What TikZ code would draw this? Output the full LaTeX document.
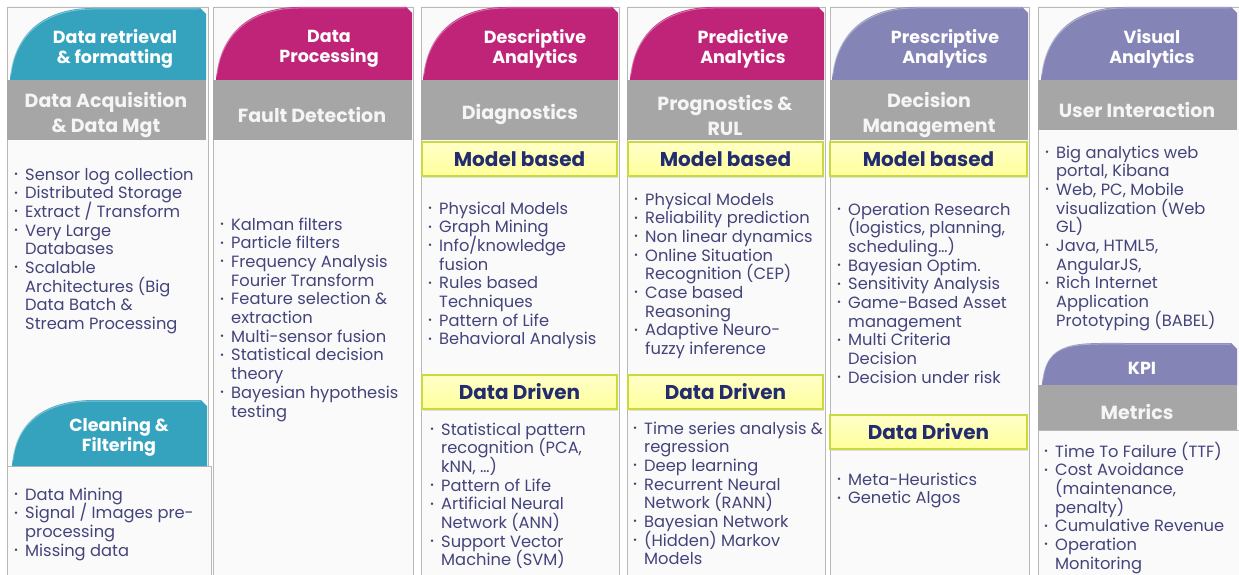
\documentclass[tikz,border=0pt]{standalone}
\usepackage{fontspec}
\setmainfont{Poppins}
\usepackage{graphicx}
\usetikzlibrary{shadows}
\definecolor{hdTeal}{HTML}{36A3BE}
\definecolor{hdMag}{HTML}{BF2479}
\definecolor{hdLav}{HTML}{8484B6}
\definecolor{bandGray}{HTML}{A6A6A6}
\definecolor{txtBody}{HTML}{44447C}
\definecolor{txtNavy}{HTML}{232C6E}
\definecolor{ylwFill}{HTML}{FFFF9C}
\definecolor{ylwEdge}{HTML}{C9DA3F}
\pgfdeclarehorizontalshading{panelsh}{100bp}{color(0bp)=(black!18); color(12bp)=(black!6); color(22bp)=(black!2); color(90bp)=(black!2); color(96bp)=(black!7); color(100bp)=(black!18)}
\newlength\bulw \setlength\bulw{11pt}
\newcommand\bul{\makebox[\bulw][l]{\raisebox{0.3ex}{\scalebox{0.6}{•}}}}
\newcommand\ind{\hspace*{\bulw}}
\newcommand\li[1]{\hbox{\bul #1}}
\newcommand\lc[1]{\hbox{\ind #1}}
\newcommand\lst[1]{\vtop{\fontsize{16.3}{18.7}\selectfont\lineskiplimit=-\maxdimen\lineskip=0pt #1}}
\newcommand\hdshape[5]{%
  \fill[#5] (#1+2,#4) .. controls (#1+5,#4-45) and (#1+35,#3) .. (#1+85,#3)
    -- (#2-6,#3) -- (#2,#3+6) -- (#2,#4) -- cycle;
  \draw[white, opacity=0.35, line width=1pt] (#1+3,#4-6) .. controls (#1+7,#4-44) and (#1+36,#3+1) .. (#1+85,#3+1)
    -- (#2-6.5,#3+1);}
\newcommand\panel[4]{%
  \shade[shading=panelsh, draw=black!28, line width=0.6pt]
    (#1,#3) rectangle (#2,#4);}
\tikzset{
  hdtxt/.style={text=white, font=\bfseries\fontsize{17.5}{20}\selectfont, align=center, inner sep=0},
  bandtxt/.style={text=white!96!black, font=\bfseries\fontsize{19}{25}\selectfont, align=center, inner sep=0},
  ybox/.style={draw=ylwEdge, line width=1.3pt, top color=ylwFill!55!white, bottom color=ylwFill,
    minimum width=195pt, minimum height=34pt, inner sep=0, text=txtNavy,
    drop shadow={opacity=0.2, shadow xshift=1pt, shadow yshift=-2pt},
    font=\bfseries\fontsize{20}{22}\selectfont},
  lstyle/.style={anchor=base west, inner sep=0, text=txtBody},
}
\begin{document}
\begin{tikzpicture}[x=1pt,y=-1pt]
\useasboundingbox (0,0) rectangle (1239,575);
\fill[white] (0,0) rectangle (1239,575);
% ---------- panels ----------
\panel{7}{208}{7}{576}
\panel{213}{413}{7}{576}
\panel{421}{619}{7}{576}
\panel{627}{825}{7}{576}
\panel{830}{1029}{7}{576}
\panel{1038}{1239}{7}{576}
\panel{7}{211}{466}{576}
\panel{1038}{1239}{430}{576}
% ---------- headers ----------
\hdshape{8}{206}{8}{80}{hdTeal}
\hdshape{214}{412}{7}{80}{hdMag}
\hdshape{421}{618}{7}{80}{hdMag}
\hdshape{628}{824}{7}{80}{hdMag}
\hdshape{830}{1028}{7}{80}{hdLav}
\hdshape{1039}{1237}{7}{80}{hdLav}
\hdshape{10}{207}{400}{466}{hdTeal}
\hdshape{1040}{1237}{343}{385}{hdLav}
% ---------- gray bands ----------
\fill[bandGray] (7,80) rectangle (206,140);
\fill[bandGray] (213,80) rectangle (412,140);
\fill[bandGray] (421,80) rectangle (618,140);
\fill[bandGray] (627,80) rectangle (824,140);
\fill[bandGray] (830,80) rectangle (1028,140);
\fill[bandGray] (1038,80) rectangle (1237,130);
\fill[bandGray] (1038,385) rectangle (1237,430);
% ---------- header texts ----------
\node[hdtxt] (h1) at (115,49) {Data retrieval\\\& formatting};
\node[hdtxt] (h2) at (329,49) {Data\\Processing};
\node[hdtxt] (h3) at (535,49) {Descriptive\\Analytics};
\node[hdtxt] (h4) at (743,49) {Predictive\\Analytics};
\node[hdtxt] (h5) at (945,49) {Prescriptive\\Analytics};
\node[hdtxt] (h6) at (1152,49) {Visual\\Analytics};
\node[hdtxt] (h7) at (119,437) {Cleaning \&\\Filtering};
\node[hdtxt] (h8) at (1142,368) {KPI};
% ---------- band texts ----------
\node[bandtxt] (b1) at (106,115) {Data Acquisition\\\& Data Mgt};
\node[bandtxt] (b2) at (312,115) {Fault Detection};
\node[bandtxt] (b3) at (520,115) {Diagnostics};
\node[bandtxt] (b4) at (725,115) {Prognostics \&\\RUL};
\node[bandtxt] (b5) at (929,115) {Decision\\Management};
\node[bandtxt] (b6) at (1137,110) {User Interaction};
\node[bandtxt] (b7) at (1137,412) {Metrics};
% ---------- yellow boxes ----------
\node[ybox] (m3) at (519.5,159) {Model based};
\node[ybox] (m4) at (725.5,159) {Model based};
\node[ybox, minimum width=197pt] (m5) at (928.5,159) {Model based};
\node[ybox] (d3) at (519.5,392) {Data Driven};
\node[ybox] (d4) at (725.5,392) {Data Driven};
\node[ybox, minimum width=197pt] (d5) at (928.5,432) {Data Driven};
% ---------- lists ----------
\node[lstyle] (l1) at (14,180) {\lst{%
\li{Sensor log collection}
\li{Distributed Storage}
\li{Extract / Transform}
\li{Very Large}
\lc{Databases}
\li{Scalable}
\lc{Architectures (Big}
\lc{Data Batch \&}
\lc{Stream Processing}}};
\node[lstyle] (l2) at (14,500) {\lst{%
\li{Data Mining}
\li{Signal / Images pre-}
\lc{processing}
\li{Missing data}}};
\node[lstyle] (l3) at (220,230) {\lst{%
\li{Kalman filters}
\li{Particle filters}
\li{Frequency Analysis}
\lc{Fourier Transform}
\li{Feature selection \&}
\lc{extraction}
\li{Multi-sensor fusion}
\li{Statistical decision}
\lc{theory}
\li{Bayesian hypothesis}
\lc{testing}}};
\node[lstyle] (l4) at (428,214) {\lst{%
\li{Physical Models}
\li{Graph Mining}
\li{Info/knowledge}
\lc{fusion}
\li{Rules based}
\lc{Techniques}
\li{Pattern of Life}
\li{Behavioral Analysis}}};
\node[lstyle] (l5) at (430,435) {\lst{%
\li{Statistical pattern}
\lc{recognition (PCA,}
\lc{kNN, …)}
\li{Pattern of Life}
\li{Artificial Neural}
\lc{Network (ANN)}
\li{Support Vector}
\lc{Machine (SVM)}}};
\node[lstyle] (l6) at (634,205) {\lst{%
\li{Physical Models}
\li{Reliability prediction}
\li{Non linear dynamics}
\li{Online Situation}
\lc{Recognition (CEP)}
\li{Case based}
\lc{Reasoning}
\li{Adaptive Neuro-}
\lc{fuzzy inference}}};
\node[lstyle] (l7) at (633,434) {\lst{%
\li{Time series analysis \&}
\lc{regression}
\li{Deep learning}
\li{Recurrent Neural}
\lc{Network (RANN)}
\li{Bayesian Network}
\li{(Hidden) Markov}
\lc{Models}}};
\node[lstyle] (l8) at (837,215) {\lst{%
\li{Operation Research}
\lc{(logistics, planning,}
\lc{scheduling…)}
\li{Bayesian Optim.}
\li{Sensitivity Analysis}
\li{Game-Based Asset}
\lc{management}
\li{Multi Criteria}
\lc{Decision}
\li{Decision under risk}}};
\node[lstyle] (l9) at (837,485) {\lst{%
\li{Meta-Heuristics}
\li{Genetic Algos}}};
\node[lstyle] (l10) at (1045,158) {\lst{%
\li{Big analytics web}
\lc{portal, Kibana}
\li{Web, PC, Mobile}
\lc{visualization (Web}
\lc{GL)}
\li{Java, HTML5,}
\lc{AngularJS,}
\li{Rich Internet}
\lc{Application}
\lc{Prototyping (BABEL)}}};
\node[lstyle] (l11) at (1044,457) {\lst{%
\li{Time To Failure (TTF)}
\li{Cost Avoidance}
\lc{(maintenance,}
\lc{penalty)}
\li{Cumulative Revenue}
\li{Operation}
\lc{Monitoring}}};
\end{tikzpicture}
\end{document}
